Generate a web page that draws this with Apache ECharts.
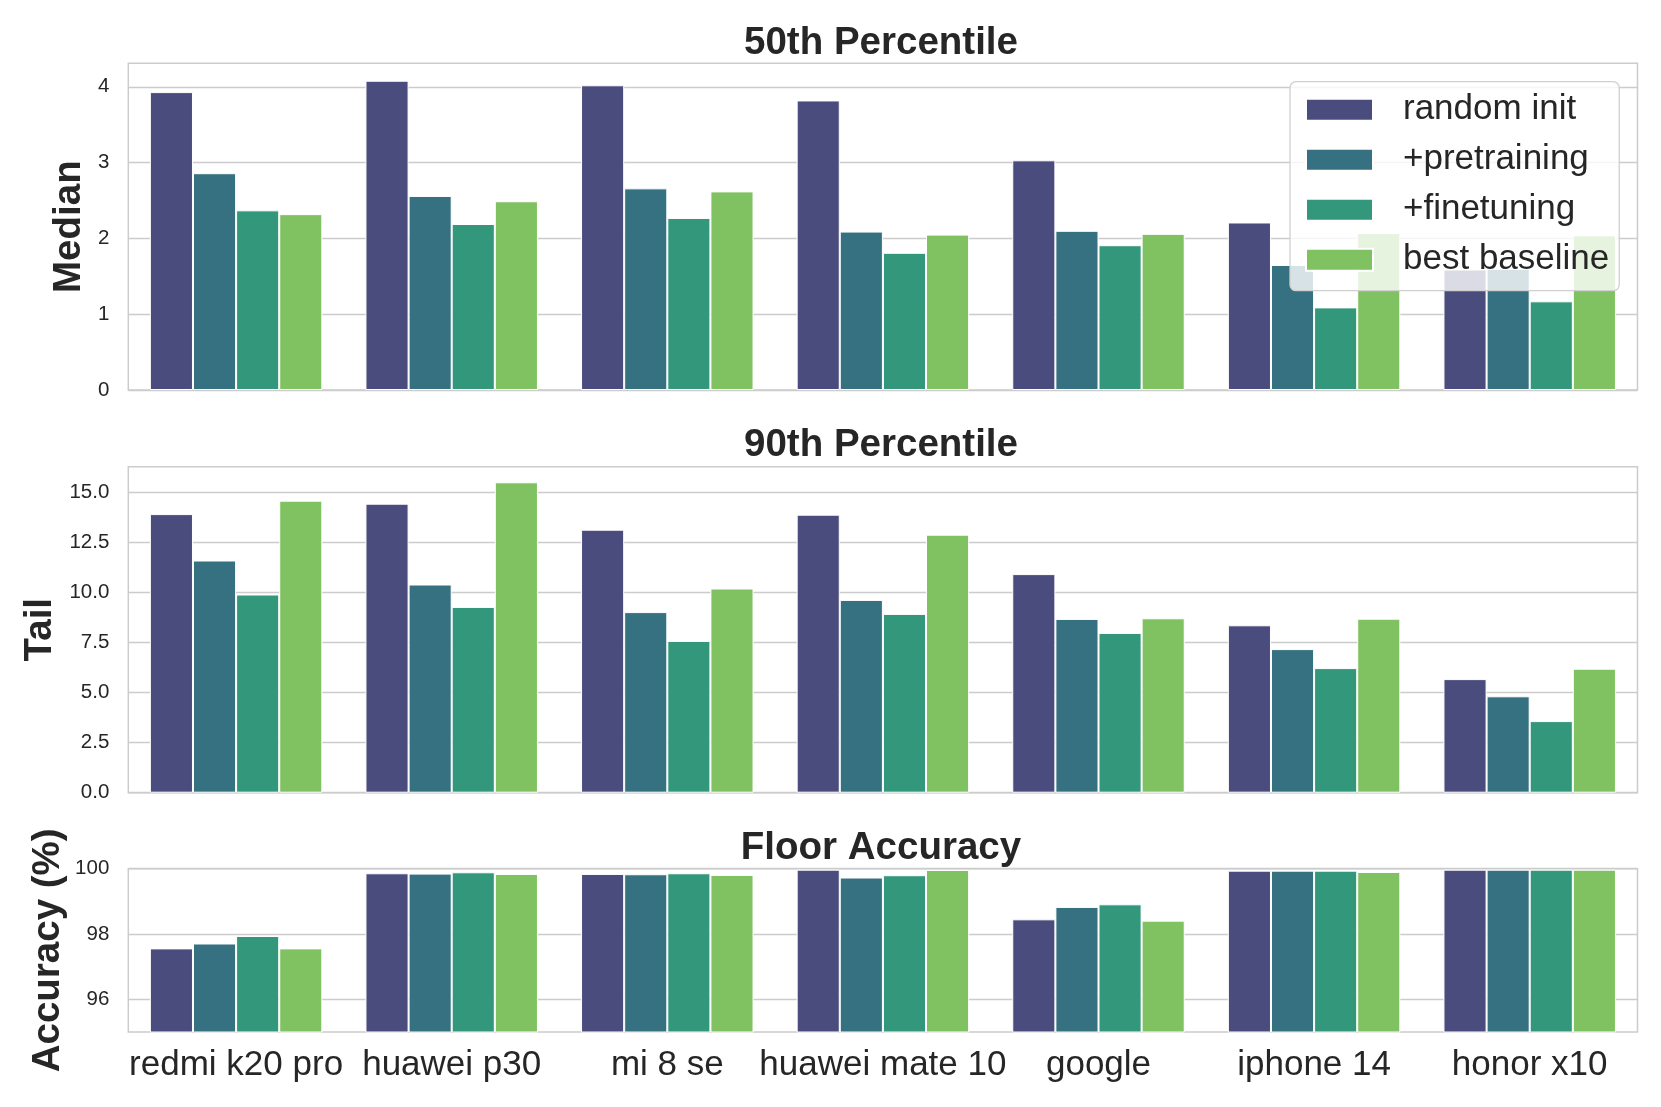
<!DOCTYPE html>
<html>
<head>
<meta charset="utf-8">
<script src="https://cdn.jsdelivr.net/npm/echarts@6/dist/echarts.min.js"></script>
<style>html,body{margin:0;padding:0;background:#fff}#c{width:1661px;height:1107px}</style>
</head>
<body>
<div id="c"></div>
<script>
const categories = ['redmi k20 pro', 'huawei p30', 'mi 8 se', 'huawei mate 10', 'google', 'iphone 14', 'honor x10'];
const seriesNames = ['random init', '+pretraining', '+finetuning', 'best baseline'];

const medianRandom   = [3.93, 4.08, 4.02, 3.82, 3.03, 2.21, 1.59];
const medianPretrain = [2.86, 2.56, 2.66, 2.09, 2.10, 1.65, 1.60];
const medianFinetune = [2.37, 2.19, 2.27, 1.81, 1.91, 1.09, 1.17];
const medianBaseline = [2.32, 2.49, 2.62, 2.05, 2.06, 2.07, 2.04];

const tailRandom   = [13.93, 14.45, 13.15, 13.90, 10.93, 8.37, 5.68];
const tailPretrain = [11.61, 10.41, 9.03, 9.64, 8.69, 7.18, 4.82];
const tailFinetune = [9.91, 9.29, 7.59, 8.94, 7.99, 6.23, 3.58];
const tailBaseline = [14.60, 15.52, 10.21, 12.90, 8.72, 8.70, 6.20];

const accRandom   = [97.56, 99.86, 99.84, 99.97, 98.45, 99.94, 99.97];
const accPretrain = [97.71, 99.85, 99.83, 99.73, 98.83, 99.94, 99.97];
const accFinetune = [97.94, 99.89, 99.86, 99.80, 98.91, 99.94, 99.97];
const accBaseline = [97.56, 99.84, 99.81, 99.96, 98.41, 99.90, 99.97];

const medianTicks = [0, 1, 2, 3, 4];
const tailTicks = [0, 2.5, 5, 7.5, 10, 12.5, 15];
const accTicks = [96, 98, 100];

const titles = ['50th Percentile', '90th Percentile', 'Floor Accuracy'];
const yNames = ['Median', 'Tail', 'Accuracy (%)'];

const colors = ['#4a4c7e', '#367181', '#33977c', '#80c161'];
const FONT = 'Liberation Sans, Arial, sans-serif';
const TXT = '#262626';
const GRIDC = '#cccccc';

const panels = [
  { data: [medianRandom, medianPretrain, medianFinetune, medianBaseline], ticks: medianTicks, min: 0, max: 4.31, fmt: v => String(v), top: 63.3, height: 326.7, nameGap: 39, titleTop: 18.5 },
  { data: [tailRandom, tailPretrain, tailFinetune, tailBaseline], ticks: tailTicks, min: 0, max: 16.3, fmt: v => v.toFixed(1), top: 466.7, height: 326, nameGap: 68, titleTop: 420.5 },
  { data: [accRandom, accPretrain, accFinetune, accBaseline], ticks: accTicks, min: 95, max: 100, fmt: v => String(v), top: 868.7, height: 163.3, nameGap: 60, titleTop: 823.5 }
];

const grid = [], xAxis = [], yAxis = [], series = [], title = [];
panels.forEach((p, i) => {
  grid.push({ left: 128.3, right: 23.5, top: p.top, height: p.height, show: true, borderColor: GRIDC, borderWidth: 1.5, backgroundColor: 'transparent' });
  title.push({ text: titles[i], left: 876, textAlign: 'center', top: p.titleTop,
    textStyle: { fontFamily: FONT, fontSize: 38.5, fontWeight: 'bold', color: TXT } });
  xAxis.push({
    type: 'category', gridIndex: i, data: categories, boundaryGap: true,
    axisLine: { show: false }, axisTick: { show: false }, splitLine: { show: false },
    axisLabel: { show: i === 2, fontFamily: FONT, fontSize: 35, color: TXT, margin: 16, interval: 0 }
  });
  yAxis.push({
    type: 'value', gridIndex: i, min: p.min, max: p.max,
    name: yNames[i], nameLocation: 'middle', nameGap: p.nameGap, nameMoveOverlap: false,
    nameTextStyle: { fontFamily: FONT, fontSize: 38.5, fontWeight: 'bold', color: TXT },
    axisLine: { show: false },
    axisTick: { show: false, customValues: p.ticks },
    axisLabel: { customValues: p.ticks, formatter: p.fmt, fontFamily: FONT, fontSize: 20.5, color: TXT, margin: 19 },
    splitLine: { show: true, lineStyle: { color: GRIDC, width: 1.3 } }
  });
  p.data.forEach((arr, k) => {
    series.push({
      name: seriesNames[k], type: 'bar', xAxisIndex: i, yAxisIndex: i, data: arr,
      barGap: '0%', barCategoryGap: '20%',
      itemStyle: { color: colors[k], borderColor: '#ffffff', borderWidth: 1 },
      emphasis: { disabled: true }, animation: false
    });
  });
});

const chart = echarts.init(document.getElementById('c'), null, { renderer: 'canvas' });
chart.setOption({
  animation: false,
  backgroundColor: '#ffffff',
  color: colors,
  title,
  grid, xAxis, yAxis, series,
  legend: {
    data: seriesNames, orient: 'vertical', left: 1290, top: 81.7,
    icon: 'rect', itemWidth: 67, itemHeight: 22, itemGap: 14,
    padding: [10, 10, 13, 15],
    backgroundColor: 'rgba(255,255,255,0.8)', borderColor: '#d0d0d0', borderWidth: 1.3, borderRadius: 6,
    textStyle: { fontFamily: FONT, fontSize: 35, color: TXT, lineHeight: 36, padding: [0, 0, 0, 25] },
    selectedMode: false
  }
});
</script>
</body>
</html>
